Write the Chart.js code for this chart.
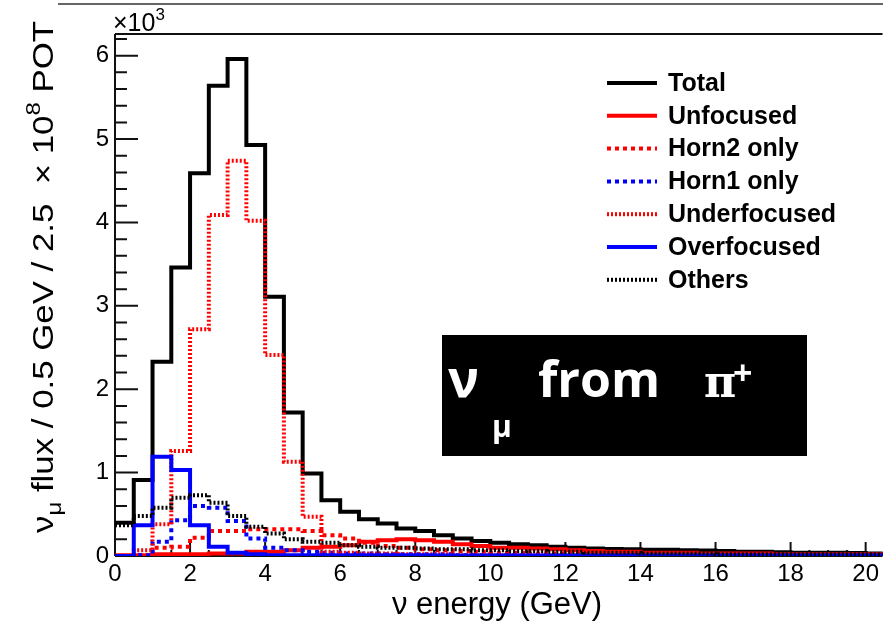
<!DOCTYPE html>
<html>
<head>
<meta charset="utf-8">
<script src="https://cdn.jsdelivr.net/npm/chart.js@4.4.1/dist/chart.umd.min.js"></script>
<style>
  html, body { margin: 0; padding: 0; background: #fff; overflow: hidden; }
  #wrap { width: 883px; height: 623px; }
</style>
</head>
<body>
<div id="wrap"><canvas id="mychart" width="883" height="623"></canvas></div>
<script>
// lower edges of the 0.5 GeV bins
var binLow = [0, 0.5, 1, 1.5, 2, 2.5, 3, 3.5, 4, 4.5, 5, 5.5, 6, 6.5, 7, 7.5, 8, 8.5, 9, 9.5,
  10, 10.5, 11, 11.5, 12, 12.5, 13, 13.5, 14, 14.5, 15, 15.5, 16, 16.5, 17, 17.5, 18, 18.5, 19, 19.5, 20];
var binWidth = 0.5;

// flux in units of 10^3
var total = [0.40, 0.91, 2.33, 3.46, 4.59, 5.64, 5.96, 4.93, 3.11, 1.72,
  0.99, 0.67, 0.53, 0.44, 0.39, 0.33, 0.30, 0.25, 0.21, 0.18,
  0.16, 0.14, 0.13, 0.11, 0.10, 0.09, 0.085, 0.08, 0.075, 0.075,
  0.07, 0.065, 0.06, 0.05, 0.05, 0.045, 0.04, 0.04, 0.04, 0.035, 0.03];
var unfocused = [0.01, 0.01, 0.02, 0.02, 0.02, 0.03, 0.03, 0.05, 0.05, 0.07,
  0.10, 0.11, 0.13, 0.17, 0.19, 0.20, 0.19, 0.17, 0.14, 0.12,
  0.10, 0.10, 0.09, 0.08, 0.07, 0.06, 0.05, 0.05, 0.04, 0.04,
  0.04, 0.03, 0.03, 0.03, 0.03, 0.02, 0.02, 0.02, 0.02, 0.02, 0.02];
var horn2Only = [0.00, 0.01, 0.10, 0.11, 0.22, 0.30, 0.30, 0.32, 0.32, 0.32,
  0.30, 0.25, 0.21, 0.16, 0.12, 0.10, 0.08, 0.07, 0.06, 0.05,
  0.04, 0.04, 0.03, 0.03, 0.03, 0.02, 0.02, 0.02, 0.02, 0.01,
  0.01, 0.01, 0.01, 0.01, 0.01, 0.01, 0.01, 0.01, 0.01, 0.01, 0.01];
var horn1Only = [0.00, 0.01, 0.17, 0.43, 0.60, 0.58, 0.42, 0.21, 0.10, 0.07,
  0.05, 0.04, 0.03, 0.03, 0.02, 0.02, 0.02, 0.02, 0.01, 0.01,
  0.01, 0.01, 0.01, 0.01, 0.01, 0.01, 0.01, 0.01, 0.01, 0.01,
  0.01, 0.01, 0.01, 0.01, 0.01, 0.01, 0.01, 0.01, 0.01, 0.01, 0.01];
var underfocused = [0.00, 0.07, 0.38, 1.26, 2.72, 4.09, 4.74, 4.02, 2.41, 1.13,
  0.47, 0.05, 0.04, 0.03, 0.03, 0.02, 0.02, 0.02, 0.01, 0.01,
  0.01, 0.01, 0.01, 0.01, 0.01, 0.01, 0.01, 0.01, 0.01, 0.01,
  0.01, 0.01, 0.01, 0.01, 0.01, 0.01, 0.01, 0.01, 0.01, 0.01, 0.01];
var overfocused = [0.00, 0.37, 1.19, 1.03, 0.37, 0.11, 0.04, 0.02, 0.01, 0.01,
  0.01, 0.01, 0.01, 0.01, 0.01, 0.01, 0.01, 0.005, 0.005, 0.005,
  0.005, 0.005, 0.005, 0.005, 0.005, 0.005, 0.005, 0.005, 0.005, 0.005,
  0.005, 0.005, 0.005, 0.005, 0.005, 0.005, 0.005, 0.005, 0.005, 0.005, 0.005];
var others = [0.37, 0.48, 0.58, 0.70, 0.73, 0.64, 0.48, 0.35, 0.27, 0.20,
  0.17, 0.16, 0.13, 0.11, 0.10, 0.10, 0.09, 0.08, 0.08, 0.07,
  0.07, 0.06, 0.06, 0.05, 0.05, 0.04, 0.04, 0.04, 0.03, 0.03,
  0.03, 0.03, 0.02, 0.02, 0.02, 0.02, 0.02, 0.02, 0.02, 0.02, 0.02];

var seriesNames = ['Total', 'Unfocused', 'Horn2 only', 'Horn1 only', 'Underfocused', 'Overfocused', 'Others'];
var xTicks = [0, 2, 4, 6, 8, 10, 12, 14, 16, 18, 20];
var yTicks = [0, 1, 2, 3, 4, 5, 6];

function histPoints(vals) {
  var pts = [];
  for (var i = 0; i < binLow.length; i++) pts.push({x: binLow[i], y: vals[i]});
  pts.push({x: binLow[binLow.length - 1] + binWidth, y: vals[vals.length - 1]});
  return pts;
}

function ds(label, vals, color, width, dash, order) {
  return {
    label: label, data: histPoints(vals), borderColor: color, backgroundColor: color,
    borderWidth: width, borderDash: dash, stepped: true, pointRadius: 0, fill: false,
    borderJoinStyle: 'miter', borderCapStyle: 'butt', order: order
  };
}

var FONT = '"Liberation Sans", Arial, Helvetica, sans-serif';

var decor = {
  id: 'decor',
  beforeDatasetsDraw: function(chart) {
    var ctx = chart.ctx, a = chart.chartArea, sx = chart.scales.x, sy = chart.scales.y;
    ctx.save();
    ctx.strokeStyle = '#111';
    ctx.lineWidth = 2;
    ctx.beginPath();
    ctx.moveTo(a.left, a.top); ctx.lineTo(a.right, a.top);
    ctx.moveTo(a.left, a.top); ctx.lineTo(a.left, a.bottom);
    ctx.moveTo(a.left, a.bottom); ctx.lineTo(a.right, a.bottom);
    // y ticks: major every 1, minor every 0.2
    for (var k = 0; k <= 31; k++) {
      var py = sy.getPixelForValue(k * 0.2);
      if (py < a.top) break;
      var len = (k % 5 === 0) ? 23 : 12;
      ctx.moveTo(a.left, py); ctx.lineTo(a.left + len, py);
    }
    // x ticks: major every 2, minor every 0.5
    for (var j = 0; j <= 41; j++) {
      var px = sx.getPixelForValue(j * 0.5);
      if (px > a.right) break;
      var l2 = (j % 4 === 0) ? 14 : 6;
      ctx.moveTo(px, a.bottom); ctx.lineTo(px, a.bottom - l2);
    }
    ctx.stroke();
    // outer slide line on top
    ctx.strokeStyle = '#666';
    ctx.beginPath(); ctx.moveTo(58, 4); ctx.lineTo(883, 4); ctx.stroke();
    ctx.restore();
  },
  afterDraw: function(chart) {
    var ctx = chart.ctx;
    ctx.save();
    ctx.fillStyle = '#000';
    // x10^3
    ctx.textBaseline = 'alphabetic';
    ctx.textAlign = 'left';
    ctx.font = '25px ' + FONT;
    ctx.fillText('\u00d710', 113, 31);
    var w = ctx.measureText('\u00d710').width;
    ctx.font = '17px ' + FONT;
    ctx.fillText('3', 113 + w, 20);

    // x title
    ctx.font = '31px ' + FONT;
    ctx.textAlign = 'center';
    ctx.fillText('\u03bd energy (GeV)', 497, 614);

    // y title, rotated, built from pieces for sub/superscripts
    var parts = [
      {t: '\u03bd', s: 29, dy: 0},
      {t: '\u03bc', s: 20, dy: 8},
      {t: ' flux / 0.5 GeV / 2.5  \u00d7 10', s: 29, dy: 0},
      {t: '8', s: 20, dy: -13},
      {t: ' POT', s: 29, dy: 0}
    ];
    ctx.textAlign = 'left';
    var tot = 0;
    parts.forEach(function(p) { ctx.font = p.s + 'px ' + FONT; p.w = ctx.measureText(p.t).width; tot += p.w; });
    var span = 512;
    ctx.translate(53, 533);
    ctx.rotate(-Math.PI / 2);
    ctx.scale(span / tot, 1);
    var cx = 0;
    parts.forEach(function(p) { ctx.font = p.s + 'px ' + FONT; ctx.fillText(p.t, cx, p.dy); cx += p.w; });
    ctx.setTransform(1, 0, 0, 1, 0, 0);

    // legend
    ctx.font = 'bold 25px ' + FONT;
    ctx.textBaseline = 'middle';
    chart.data.datasets.forEach(function(d, i) {
      var ly = 83 + i * 32.8;
      ctx.strokeStyle = d.borderColor;
      ctx.lineWidth = d.borderWidth;
      ctx.setLineDash(d.borderDash || []);
      ctx.beginPath(); ctx.moveTo(607, ly); ctx.lineTo(657, ly); ctx.stroke();
      ctx.setLineDash([]);
      ctx.fillStyle = '#000';
      ctx.fillText(d.label, 668, ly + 1);
    });

    // label box
    ctx.fillStyle = '#000';
    ctx.fillRect(442, 335, 365, 121);
    ctx.fillStyle = '#fff';
    ctx.textBaseline = 'alphabetic';
    ctx.font = 'bold 52px "Open Sans", "DejaVu Sans", sans-serif';
    ctx.fillText('\u03bd', 448, 397);
    ctx.font = 'bold 30px "Open Sans", "DejaVu Sans", sans-serif';
    ctx.fillText('\u03bc', 492, 437);
    ctx.font = 'bold 50px "Open Sans", "DejaVu Sans", sans-serif';
    ctx.fillText('from', 538, 397);
    ctx.font = 'bold 44px "DejaVu Serif", serif';
    ctx.fillText('\u03c0', 704, 397);
    ctx.font = 'bold 34px "Open Sans", "DejaVu Sans", sans-serif';
    ctx.fillText('+', 733, 385);
    ctx.restore();
  }
};

new Chart(document.getElementById('mychart'), {
  type: 'line',
  plugins: [decor],
  data: {
    datasets: [
      ds(seriesNames[0], total, '#000000', 4, [], 7),
      ds(seriesNames[1], unfocused, '#ff0000', 4, [], 6),
      ds(seriesNames[2], horn2Only, '#ff0000', 4, [4, 4], 5),
      ds(seriesNames[3], horn1Only, '#0000ff', 4, [4, 4], 4),
      ds(seriesNames[4], underfocused, '#ff0000', 4, [2, 2], 3),
      ds(seriesNames[5], overfocused, '#0000ff', 4, [], 2),
      ds(seriesNames[6], others, '#000000', 4, [2, 2], 1)
    ]
  },
  options: {
    responsive: false,
    animation: false,
    devicePixelRatio: 1,
    layout: { padding: { top: 34, left: 0, right: 0, bottom: 0 } },
    plugins: { legend: { display: false }, tooltip: { enabled: false } },
    scales: {
      x: {
        type: 'linear', min: 0, max: 20.45,
        afterFit: function(s) { s.height = 67; },
        afterBuildTicks: function(s) { s.ticks = xTicks.map(function(v) { return {value: v}; }); },
        grid: { display: false, drawTicks: false },
        border: { display: false },
        ticks: { color: '#000', padding: 4, maxRotation: 0, autoSkip: false, font: { size: 24, family: FONT } }
      },
      y: {
        type: 'linear', min: 0, max: 6.26,
        afterFit: function(s) { s.width = 115; },
        afterBuildTicks: function(s) { s.ticks = yTicks.map(function(v) { return {value: v}; }); },
        grid: { display: false, drawTicks: false },
        border: { display: false },
        ticks: { color: '#000', padding: 6, autoSkip: false, font: { size: 24, family: FONT } }
      }
    }
  }
});
</script>
</body>
</html>
